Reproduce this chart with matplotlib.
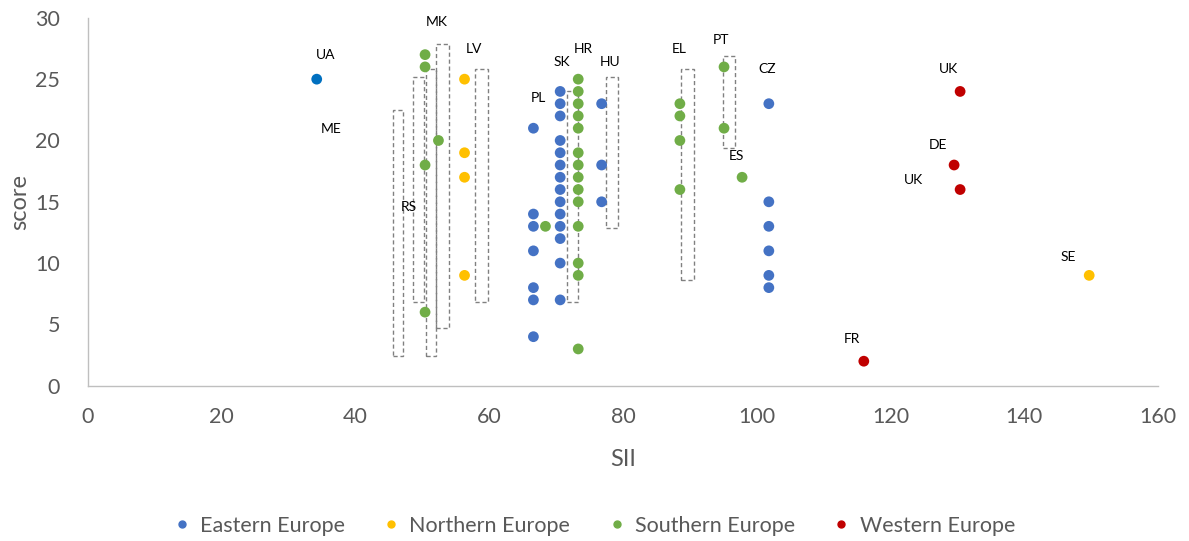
import matplotlib.pyplot as plt
from matplotlib.patches import Rectangle
from matplotlib.lines import Line2D

plt.rcParams['font.family'] = ['Lato', 'DejaVu Sans']

# SII / score values, one list pair per region
eastern_sii = [66.6, 66.6, 66.6, 66.6, 66.6, 66.6, 66.6,
               70.6, 70.6, 70.6, 70.6, 70.6, 70.6, 70.6, 70.6, 70.6, 70.6, 70.6, 70.6, 70.6, 70.6,
               76.8, 76.8, 76.8,
               101.8, 101.8, 101.8, 101.8, 101.8, 101.8]
eastern_score = [21, 14, 13, 11, 8, 7, 4,
                 24, 23, 22, 20, 19, 18, 17, 16, 15, 14, 13, 12, 10, 7,
                 23, 18, 15,
                 23, 15, 13, 11, 9, 8]

northern_sii = [56.3, 56.3, 56.3, 56.3, 149.7]
northern_score = [25, 19, 17, 9, 9]

southern_sii = [50.4, 50.4, 50.4, 50.4, 52.4, 68.4,
                73.3, 73.3, 73.3, 73.3, 73.3, 73.3, 73.3, 73.3, 73.3, 73.3, 73.3, 73.3, 73.3, 73.3,
                88.5, 88.5, 88.5, 88.5, 95.1, 95.1, 97.8]
southern_score = [27, 26, 18, 6, 20, 13,
                  25, 24, 23, 22, 21, 19, 18, 17, 16, 15, 13, 10, 9, 3,
                  23, 22, 20, 16, 26, 21, 17]

western_sii = [130.4, 129.5, 130.4, 116.0]
western_score = [24, 18, 16, 2]

ua_sii = [34.2]
ua_score = [25]

regions = ['Eastern Europe', 'Northern Europe', 'Southern Europe', 'Western Europe']
colors = ['#4472C4', '#FFC000', '#70AD47', '#C00000']

# country labels (text, x, y)
labels = [('UA', 35.6, 27.0), ('ME', 36.3, 20.9), ('MK', 52.2, 29.7), ('LV', 57.7, 27.5),
          ('RS', 47.9, 14.6), ('PL', 67.3, 23.5), ('SK', 70.9, 26.4), ('HR', 74.0, 27.5),
          ('HU', 78.1, 26.4), ('EL', 88.4, 27.5), ('PT', 94.7, 28.2), ('CZ', 101.5, 25.8),
          ('ES', 97.0, 18.7), ('UK', 128.6, 25.8), ('DE', 127.1, 19.6), ('UK', 123.4, 16.8),
          ('FR', 114.2, 3.8), ('SE', 146.5, 10.5)]

# dashed boxes (x0, x1, y0, y1)
boxes = [(45.6, 47.1, 2.45, 22.5), (48.6, 50.3, 6.8, 25.2), (50.5, 52.0, 2.45, 25.8),
         (52.0, 54.0, 4.7, 27.9), (57.8, 59.8, 6.8, 25.8), (71.6, 73.2, 6.8, 24.0),
         (77.4, 79.3, 12.9, 25.2), (88.7, 90.6, 8.6, 25.8), (94.9, 96.8, 19.4, 26.9)]

fig = plt.figure(figsize=(11.89, 5.41), dpi=100)
ax = fig.add_axes([0.074, 0.287, 0.9, 0.68])

for x0, x1, y0, y1 in boxes:
    ax.add_patch(Rectangle((x0, y0), x1 - x0, y1 - y0, fill=False, edgecolor='#808080',
                           linestyle=(0, (3, 2)), linewidth=1.0, zorder=1))

series = [(eastern_sii, eastern_score), (northern_sii, northern_score),
          (southern_sii, southern_score), (western_sii, western_score)]
for (xs, ys), c in zip(series, colors):
    ax.scatter(xs, ys, s=60, color=c, edgecolors='none', zorder=3)
ax.scatter(ua_sii, ua_score, s=60, color='#0070C0', edgecolors='none', zorder=3)

for txt, x, y in labels:
    ax.text(x, y, txt, fontsize=10, ha='center', va='center', color='#000000')

ax.set_xlim(0, 160)
ax.set_ylim(0, 30)
ax.set_xticks(range(0, 161, 20))
ax.set_yticks(range(0, 31, 5))
ax.tick_params(axis='x', length=0, labelsize=15.5, labelcolor='#595959', pad=15)
ax.tick_params(axis='y', length=0, labelsize=15.5, labelcolor='#595959', pad=20)
for side in ['top', 'right']:
    ax.spines[side].set_visible(False)
for side in ['left', 'bottom']:
    ax.spines[side].set_color('#BFBFBF')
    ax.spines[side].set_linewidth(1.0)
ax.set_xlabel('SII', fontsize=17, color='#595959', labelpad=16)
ax.set_ylabel('score', fontsize=17, color='#595959', labelpad=4)

handles = [Line2D([], [], marker='o', linestyle='none', markersize=5, color=c) for c in colors]
fig.legend(handles, regions, loc='center', bbox_to_anchor=(0.5, 0.028), ncol=4, frameon=False,
           fontsize=15.5, labelcolor='#595959', handlelength=0.7, handletextpad=0.5,
           columnspacing=1.8)

fig.savefig('out.png', dpi=100)
